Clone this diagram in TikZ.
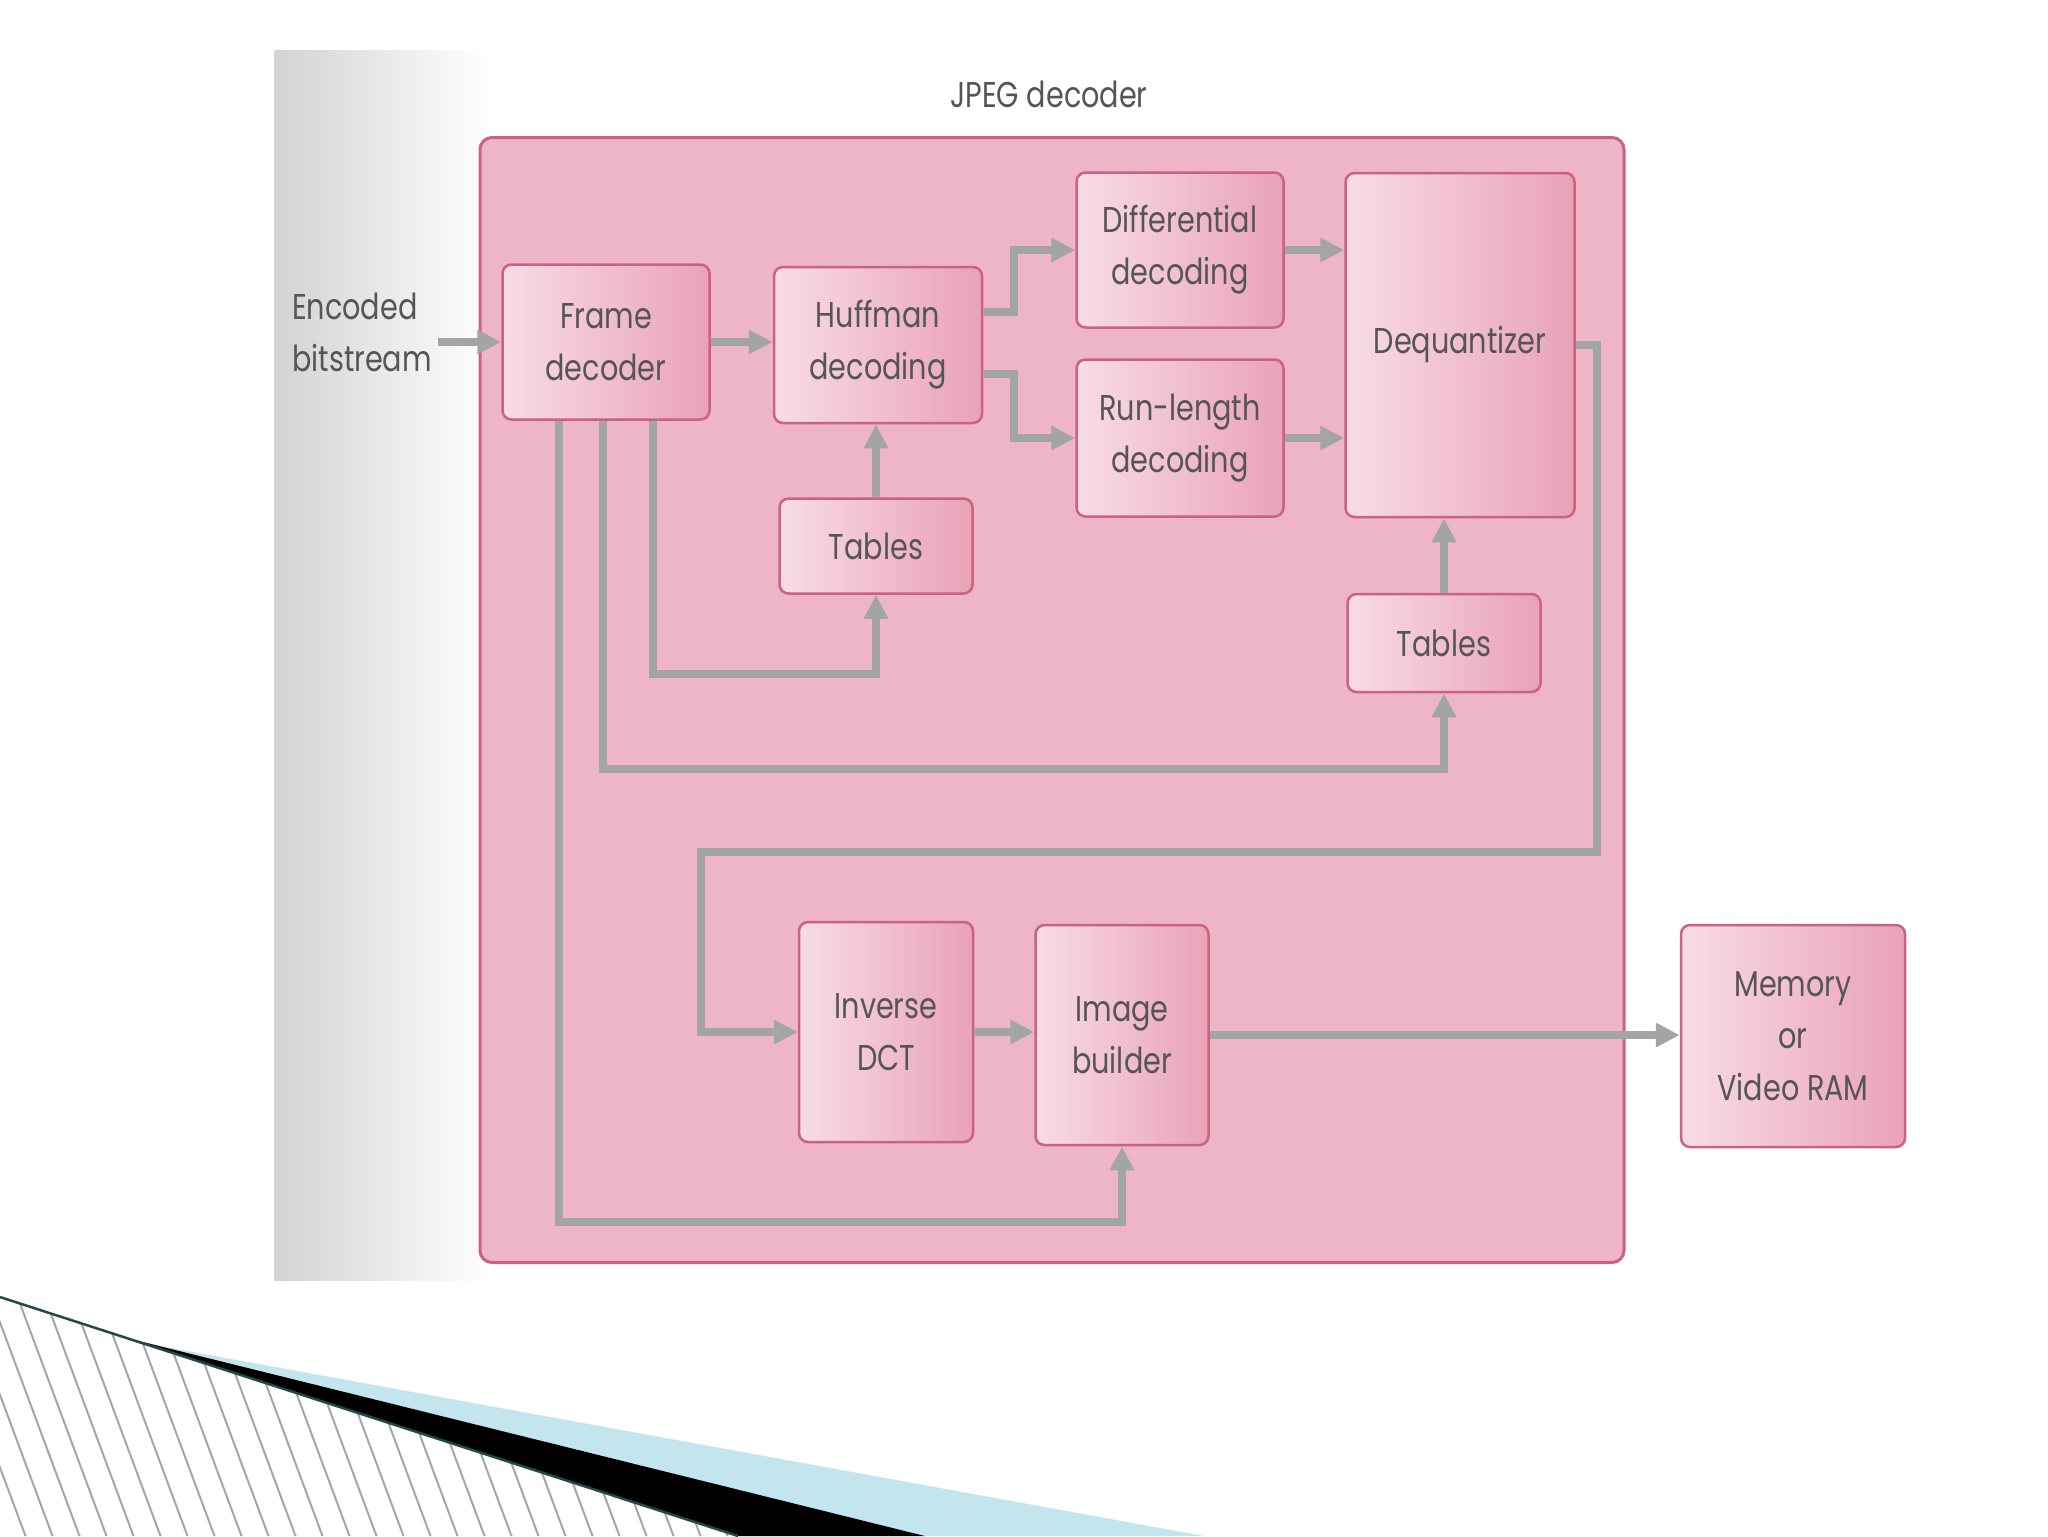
\documentclass[tikz,border=0pt]{standalone}
\usepackage{fontspec}
\setmainfont{Poppins}[FakeStretch=0.8]
\usetikzlibrary{arrows.meta}
\definecolor{decpink}{HTML}{EEB5C6}
\definecolor{boxlight}{HTML}{F8DCE4}
\definecolor{boxdark}{HTML}{E9A2B7}
\definecolor{boxline}{HTML}{C9637F}
\definecolor{arrgray}{HTML}{A2A5A3}
\definecolor{txtgray}{HTML}{555555}
\definecolor{swoosh}{HTML}{C3E5EE}
\definecolor{edgeteal}{HTML}{1E4A4A}

\begin{document}
\begin{tikzpicture}[
  x=0.1mm, y=-0.1mm,
  font=\fontsize{10.2pt}{14.8pt}\selectfont,
  text=txtgray,
  block/.style={draw=boxline, line width=0.25mm, rounded corners=0.9mm, left color=boxlight, right color=boxdark, align=center, inner sep=0pt},
  arr/.style={-{Triangle[length=2.4mm,width=2.3mm]}, line width=0.8mm, draw=arrgray},
  hatch/.style={draw=gray!70, line width=0.2mm}
]
\useasboundingbox (0,0) rectangle (2048,1536);
\fill[white] (0,0) rectangle (2048,1536);

% scanned page edge
\shade[left color=gray!35, right color=white] (274,50) rectangle (490,1280);

% JPEG decoder frame
\node[draw=boxline, line width=0.3mm, fill=decpink, rounded corners=1.2mm, minimum width=114.4mm, minimum height=112.5mm] (decoder) at (1052,700) {};
\node (title) at (1049,94) {JPEG decoder};
\node[align=left] (enc) at (362,332) {Encoded\\bitstream};

% Blocks
\node[block, minimum width=20.7mm, minimum height=15.5mm] (frame) at (606,342) {Frame\\decoder};
\node[block, minimum width=20.8mm, minimum height=15.6mm] (huff) at (878,345) {Huffman\\decoding};
\node[block, minimum width=20.7mm, minimum height=15.5mm] (diff) at (1180,250) {Differential\\decoding};
\node[block, minimum width=20.7mm, minimum height=15.7mm] (runlen) at (1180,438) {Run-length\\decoding};
\node[block, minimum width=22.9mm, minimum height=34.4mm] (dequant) at (1460,345) {Dequantizer};
\node[block, minimum width=19.3mm, minimum height=9.5mm] (tabA) at (876,546) {Tables};
\node[block, minimum width=19.3mm, minimum height=9.8mm] (tabB) at (1444,643) {Tables};
\node[block, minimum width=17.4mm, minimum height=22mm] (idct) at (886,1032) {Inverse\\DCT};
\node[block, minimum width=17.3mm, minimum height=22mm] (imgb) at (1122,1035) {Image\\builder};
\node[block, minimum width=22.4mm, minimum height=22.2mm] (mem) at (1793,1036) {Memory\\or\\Video RAM};

% Arrows
\coordinate (bend) at (701,852);
\draw[arr] ([xshift=-0.6mm]enc.east |- frame.west) -- (frame.west);
\draw[arr] (frame.east) -- (frame.east -| huff.west);
\draw[arr] ([yshift=3.3mm]huff.east) -- ++(3.1mm,0) |- (diff.west);
\draw[arr] ([yshift=-2.9mm]huff.east) -- ++(3.1mm,0) |- (runlen.west);
\draw[arr] (diff.east) -- (diff.east -| dequant.west);
\draw[arr] (runlen.east) -- (runlen.east -| dequant.west);
\draw[arr] (tabA.north) -- (tabA.north |- huff.south);
\draw[arr] (tabB.north) -- (tabB.north |- dequant.south);
\draw[arr] ([xshift=4.7mm]frame.south) -- ++(0,-25.3mm) -| (tabA.south);
\draw[arr] ([xshift=-0.3mm]frame.south) -- ++(0,-34.8mm) -| (tabB.south);
\draw[arr] ([xshift=-4.7mm]frame.south) -- ++(0,-80.1mm) -| (imgb.south);
\draw[arr] (dequant.east) -- ++(2.1mm,0) |- (bend) |- (idct.west);
\draw[arr] (idct.east) -- (idct.east -| imgb.west);
\draw[arr] (imgb.east) -- (imgb.east -| mem.west);

% slide decoration
\begin{scope}
  \clip (0,1297) -- (738,1536) -- (0,1536) -- cycle;
  \foreach \x in {-120,-93,...,760}
    \draw[hatch] (\x,1290) -- (\x+93,1540);
\end{scope}
\fill[swoosh] (160,1346) -- (1204,1536) -- (925,1536) -- cycle;
\fill[black] (127,1338) -- (925,1536) -- (738,1536) -- cycle;
\draw[edgeteal, line width=0.25mm] (0,1297) -- (738,1536);
\end{tikzpicture}
\end{document}
